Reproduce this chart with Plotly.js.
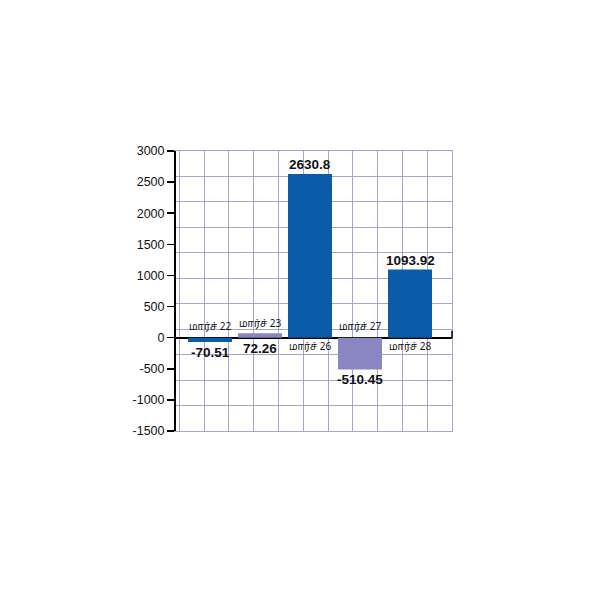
<!DOCTYPE html>
<html>
<head>
<meta charset="utf-8">
<script src="https://cdn.plot.ly/plotly-3.0.1.min.js"></script>
<style>
html, body { margin: 0; padding: 0; background: #fff; }
#chart { width: 600px; height: 600px; }
</style>
</head>
<body>
<div id="chart"></div>
<script>
// Daily change, March (Tamil date labels)
const dates = ['மார்ச் 22', 'மார்ச் 23', 'மார்ச் 26', 'மார்ச் 27', 'மார்ச் 28'];
const changes = [-70.51, 72.26, 2630.8, -510.45, 1093.92];
const valueLabels = ['-70.51', '72.26', '2630.8', '-510.45', '1093.92'];
const barColors = ['#0b5ca8', '#8a86c4', '#0b5ca8', '#8a86c4', '#0b5ca8'];
const yTicks = [-1500, -1000, -500, 0, 500, 1000, 1500, 2000, 2500, 3000];
const yTickText = ['-1500', '-1000', '-500', '0', '500', '1000', '1500', '2000', '2500', '3000'];

(function () {
    const ink = '#111';
    const gridCol = '#a4a4cc';
    const numFont = { family: '"Liberation Sans", Arial, sans-serif', size: 13.5, color: ink, weight: 700 };
    const catFont = { family: '"Noto Sans Tamil", "Noto Sans", "Lohit Tamil", sans-serif', size: 10, color: ink };

    const bars = {
        type: 'bar', x: dates, y: changes, width: 0.88,
        marker: { color: barColors, line: { width: 0 } },
        hoverinfo: 'skip', showlegend: false,
    };
    // empty trace so the grid-only overlay axes get drawn
    const gridTrace = { type: 'scatter', x: [], y: [], xaxis: 'x2', yaxis: 'y2', hoverinfo: 'skip', showlegend: false };

    // labels: big positive -> value above bar, date below zero
    //         small positive -> date above bar, value below zero
    //         negative -> date above zero, value below bar
    const ann = [];
    changes.forEach((v, i) => {
        const small = v > 0 && v < 200;
        if (v > 0 && !small) {
            ann.push({ x: dates[i], y: v, text: valueLabels[i], yanchor: 'bottom', yshift: 0, font: numFont });
            ann.push({ x: dates[i], y: 0, text: dates[i], yanchor: 'top', yshift: -1, font: catFont });
        } else if (small) {
            ann.push({ x: dates[i], y: v, text: dates[i], yanchor: 'bottom', yshift: 0, font: catFont });
            ann.push({ x: dates[i], y: 0, text: valueLabels[i], yanchor: 'top', yshift: -1, font: numFont });
        } else {
            ann.push({ x: dates[i], y: 0, text: dates[i], yanchor: 'bottom', yshift: 2, font: catFont });
            ann.push({ x: dates[i], y: v, text: valueLabels[i], yanchor: 'top', yshift: -1, font: numFont });
        }
    });
    ann.forEach(a => { a.xref = 'x'; a.yref = 'y'; a.showarrow = false; a.xanchor = 'center'; });

    const layout = {
        width: 600, height: 600,
        paper_bgcolor: '#fff', plot_bgcolor: '#fff',
        margin: { l: 176, r: 148, t: 151, b: 169 },
        font: { family: '"Liberation Sans", Arial, sans-serif', color: ink },
        showlegend: false,
        xaxis: {
            type: 'category', range: [-0.68, 4.84], fixedrange: true,
            showgrid: false, zeroline: false, showline: false, showticklabels: false, ticks: '',
        },
        yaxis: {
            range: [-1500, 3000], tickvals: yTicks, ticktext: yTickText, fixedrange: true,
            ticks: 'outside', ticklen: 7, tickwidth: 1.5, tickcolor: '#000',
            showline: true, linecolor: '#000', linewidth: 2,
            showgrid: false, zeroline: true, zerolinecolor: '#000', zerolinewidth: 2,
            tickfont: { size: 12.5, color: ink },
        },
        xaxis2: {
            overlaying: 'x', anchor: 'y2', range: [-0.13, 11], tick0: 0, dtick: 1,
            showgrid: true, gridcolor: gridCol, gridwidth: 1,
            showline: true, mirror: true, linecolor: gridCol, linewidth: 1,
            zeroline: false, showticklabels: false, ticks: '', fixedrange: true,
        },
        yaxis2: {
            overlaying: 'y', anchor: 'x2', side: 'right', range: [0, 11], tick0: 0, dtick: 1,
            showgrid: true, gridcolor: gridCol, gridwidth: 1,
            showline: true, linecolor: gridCol, linewidth: 1,
            zeroline: false, showticklabels: false, ticks: '', fixedrange: true,
        },
        shapes: [
            // small end tick at the right of the zero line
            { type: 'line', xref: 'paper', yref: 'y', x0: 1, x1: 1, y0: 0, y1: 110, line: { color: '#000', width: 1.5 } },
        ],
        annotations: ann,
    };

    Plotly.newPlot('chart', [gridTrace, bars], layout, { displayModeBar: false, staticPlot: true });
})();
</script>
</body>
</html>
